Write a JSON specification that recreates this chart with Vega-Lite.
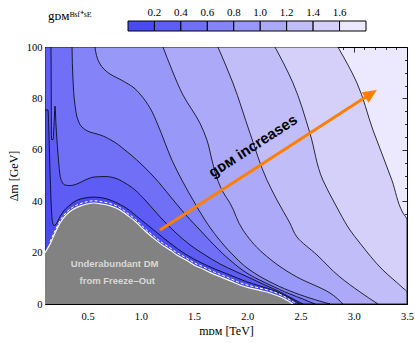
{
  "$schema": "https://vega.github.io/schema/vega-lite/v6.json",
  "width": 362,
  "height": 257,
  "autosize": "none",
  "padding": {"left": 45, "top": 47, "right": 8, "bottom": 39},
  "title": {"text": "gᴅᴍᴮˢᶠ⁺ˢᴱ", "anchor": "start", "frame": "group", "offset": 28, "dx": 3, "dy": 30, "font": "Liberation Serif", "fontSize": 13, "fontWeight": "normal", "color": "black"},
  "view": {"fill": "#ece8fd", "stroke": null},
  "datasets": {
    "k8": [
      {"X": 3.5, "Y": 0, "g": 1.5}, {"X": 3.5, "Y": 32.7, "g": 1.5}, {"X": 3.462, "Y": 35.4, "g": 1.5},
      {"X": 3.358, "Y": 48.2, "g": 1.5}, {"X": 3.18, "Y": 67.7, "g": 1.5}, {"X": 3.03, "Y": 86.0, "g": 1.5},
      {"X": 2.851, "Y": 100, "g": 1.5}
    ],
    "k7": [
      {"X": 3.5, "Y": 0, "g": 1.3}, {"X": 3.499, "Y": 4.7, "g": 1.3}, {"X": 3.462, "Y": 6.2, "g": 1.3},
      {"X": 3.274, "Y": 13.2, "g": 1.3}, {"X": 3.058, "Y": 23.7, "g": 1.3}, {"X": 2.964, "Y": 28.8, "g": 1.3},
      {"X": 2.87, "Y": 35.4, "g": 1.3}, {"X": 2.804, "Y": 40.5, "g": 1.3}, {"X": 2.71, "Y": 48.2, "g": 1.3},
      {"X": 2.588, "Y": 66.5, "g": 1.3}, {"X": 2.429, "Y": 86.0, "g": 1.3}, {"X": 2.26, "Y": 100, "g": 1.3}
    ],
    "k6": [
      {"X": 3.227, "Y": 0, "g": 1.1}, {"X": 3.058, "Y": 4.7, "g": 1.1}, {"X": 2.87, "Y": 10.5, "g": 1.1},
      {"X": 2.654, "Y": 19.1, "g": 1.1}, {"X": 2.466, "Y": 26.1, "g": 1.1}, {"X": 2.4, "Y": 31.5, "g": 1.1},
      {"X": 2.278, "Y": 40.5, "g": 1.1}, {"X": 2.185, "Y": 48.2, "g": 1.1}, {"X": 2.025, "Y": 66.5, "g": 1.1},
      {"X": 1.865, "Y": 86.0, "g": 1.1}, {"X": 1.724, "Y": 100, "g": 1.1}
    ],
    "k5": [
      {"X": 2.898, "Y": 0, "g": 0.9}, {"X": 2.776, "Y": 4.3, "g": 0.9}, {"X": 2.466, "Y": 10.5, "g": 0.9},
      {"X": 2.147, "Y": 19.8, "g": 0.9}, {"X": 1.959, "Y": 28.8, "g": 0.9}, {"X": 1.837, "Y": 39.3, "g": 0.9},
      {"X": 1.771, "Y": 43.6, "g": 0.9}, {"X": 1.715, "Y": 49.0, "g": 0.9}, {"X": 1.668, "Y": 56.0, "g": 0.9},
      {"X": 1.621, "Y": 63.8, "g": 0.9}, {"X": 1.555, "Y": 70.4, "g": 0.9}, {"X": 1.396, "Y": 81.3, "g": 0.9},
      {"X": 1.292, "Y": 91.1, "g": 0.9}, {"X": 1.208, "Y": 100, "g": 0.9}
    ],
    "k4": [
      {"X": 2.776, "Y": 0, "g": 0.7}, {"X": 2.588, "Y": 2.3, "g": 0.7}, {"X": 2.4, "Y": 5.1, "g": 0.7},
      {"X": 2.213, "Y": 8.6, "g": 0.7}, {"X": 2.025, "Y": 13.2, "g": 0.7}, {"X": 1.856, "Y": 19.5, "g": 0.7},
      {"X": 1.724, "Y": 25.7, "g": 0.7}, {"X": 1.602, "Y": 32.7, "g": 0.7}, {"X": 1.49, "Y": 40.5, "g": 0.7},
      {"X": 1.386, "Y": 48.2, "g": 0.7}, {"X": 1.292, "Y": 56.0, "g": 0.7}, {"X": 1.217, "Y": 63.8, "g": 0.7},
      {"X": 1.161, "Y": 69.6, "g": 0.7}, {"X": 1.086, "Y": 76.3, "g": 0.7}, {"X": 0.992, "Y": 81.7, "g": 0.7},
      {"X": 0.926, "Y": 84.4, "g": 0.7}, {"X": 0.832, "Y": 86.8, "g": 0.7}, {"X": 0.71, "Y": 89.5, "g": 0.7},
      {"X": 0.616, "Y": 93.4, "g": 0.7}, {"X": 0.569, "Y": 100, "g": 0.7}
    ],
    "k3": [
      {"X": 2.635, "Y": 0, "g": 0.5}, {"X": 2.523, "Y": 1.9, "g": 0.5}, {"X": 2.4, "Y": 3.9, "g": 0.5},
      {"X": 2.213, "Y": 7.4, "g": 0.5}, {"X": 2.025, "Y": 11.3, "g": 0.5}, {"X": 1.837, "Y": 17.1, "g": 0.5},
      {"X": 1.696, "Y": 22.6, "g": 0.5}, {"X": 1.555, "Y": 28.8, "g": 0.5}, {"X": 1.415, "Y": 35.0, "g": 0.5},
      {"X": 1.274, "Y": 42.0, "g": 0.5}, {"X": 1.133, "Y": 49.0, "g": 0.5}, {"X": 0.992, "Y": 54.9, "g": 0.5},
      {"X": 0.851, "Y": 59.9, "g": 0.5}, {"X": 0.72, "Y": 63.8, "g": 0.5}, {"X": 0.616, "Y": 65.8, "g": 0.5},
      {"X": 0.523, "Y": 66.9, "g": 0.5}, {"X": 0.457, "Y": 68.5, "g": 0.5}, {"X": 0.41, "Y": 71.6, "g": 0.5},
      {"X": 0.382, "Y": 77.4, "g": 0.5}, {"X": 0.363, "Y": 87.2, "g": 0.5}, {"X": 0.354, "Y": 100, "g": 0.5}
    ],
    "k2": [
      {"X": 0.1, "Y": 100, "g": 0.3}, {"X": 0.156, "Y": 100, "g": 0.3}, {"X": 0.161, "Y": 64, "g": 0.3},
      {"X": 0.175, "Y": 64, "g": 0.3}, {"X": 0.185, "Y": 70, "g": 0.3}, {"X": 0.194, "Y": 77, "g": 0.3},
      {"X": 0.203, "Y": 70, "g": 0.3}, {"X": 0.222, "Y": 58.4, "g": 0.3}, {"X": 0.241, "Y": 50.2, "g": 0.3},
      {"X": 0.26, "Y": 47.5, "g": 0.3}, {"X": 0.288, "Y": 46.3, "g": 0.3}, {"X": 0.335, "Y": 46.1, "g": 0.3},
      {"X": 0.4, "Y": 46.7, "g": 0.3}, {"X": 0.476, "Y": 48.2, "g": 0.3}, {"X": 0.56, "Y": 49.4, "g": 0.3},
      {"X": 0.663, "Y": 49.6, "g": 0.3}, {"X": 0.757, "Y": 49.0, "g": 0.3}, {"X": 0.851, "Y": 47.1, "g": 0.3},
      {"X": 0.945, "Y": 44.4, "g": 0.3}, {"X": 1.039, "Y": 40.5, "g": 0.3}, {"X": 1.189, "Y": 33.5, "g": 0.3},
      {"X": 1.321, "Y": 28.0, "g": 0.3}, {"X": 1.462, "Y": 23.0, "g": 0.3}, {"X": 1.602, "Y": 19.1, "g": 0.3},
      {"X": 1.743, "Y": 15.6, "g": 0.3}, {"X": 1.884, "Y": 12.8, "g": 0.3}, {"X": 2.025, "Y": 10.1, "g": 0.3},
      {"X": 2.166, "Y": 7.4, "g": 0.3}, {"X": 2.307, "Y": 4.7, "g": 0.3}, {"X": 2.447, "Y": 1.6, "g": 0.3},
      {"X": 2.523, "Y": 0, "g": 0.3}
    ],
    "k1": [
      {"X": 0.1, "Y": 75.5, "g": 0.1}, {"X": 0.128, "Y": 75.5, "g": 0.1}, {"X": 0.14, "Y": 62, "g": 0.1},
      {"X": 0.15, "Y": 48, "g": 0.1}, {"X": 0.16, "Y": 37, "g": 0.1}, {"X": 0.172, "Y": 31.5, "g": 0.1},
      {"X": 0.185, "Y": 30.5, "g": 0.1}, {"X": 0.203, "Y": 31, "g": 0.1}, {"X": 0.241, "Y": 34, "g": 0.1},
      {"X": 0.278, "Y": 36.3, "g": 0.1}, {"X": 0.335, "Y": 38.5, "g": 0.1}, {"X": 0.372, "Y": 39.7, "g": 0.1},
      {"X": 0.466, "Y": 41.2, "g": 0.1}, {"X": 0.56, "Y": 41.6, "g": 0.1}, {"X": 0.663, "Y": 41.1, "g": 0.1},
      {"X": 0.757, "Y": 39.7, "g": 0.1}, {"X": 0.861, "Y": 37.4, "g": 0.1}, {"X": 0.992, "Y": 33.1, "g": 0.1},
      {"X": 1.133, "Y": 28.4, "g": 0.1}, {"X": 1.274, "Y": 23.7, "g": 0.1}, {"X": 1.415, "Y": 19.5, "g": 0.1},
      {"X": 1.555, "Y": 16.3, "g": 0.1}, {"X": 1.696, "Y": 13.6, "g": 0.1}, {"X": 1.837, "Y": 11.3, "g": 0.1},
      {"X": 1.978, "Y": 8.9, "g": 0.1}, {"X": 2.119, "Y": 7.0, "g": 0.1}, {"X": 2.26, "Y": 5.1, "g": 0.1},
      {"X": 2.4, "Y": 2.3, "g": 0.1}, {"X": 2.494, "Y": 0, "g": 0.1}
    ],
    "gray": [
      {"X": 0.1, "Y": 20}, {"X": 0.147, "Y": 23.3}, {"X": 0.194, "Y": 27.6}, {"X": 0.241, "Y": 31.5},
      {"X": 0.297, "Y": 34.6}, {"X": 0.354, "Y": 36.6}, {"X": 0.429, "Y": 38.1}, {"X": 0.494, "Y": 38.9},
      {"X": 0.56, "Y": 39.3}, {"X": 0.635, "Y": 38.9}, {"X": 0.72, "Y": 38.1}, {"X": 0.804, "Y": 36.6},
      {"X": 0.87, "Y": 34.6}, {"X": 0.954, "Y": 31.9}, {"X": 1.03, "Y": 28.8}, {"X": 1.105, "Y": 26.1},
      {"X": 1.189, "Y": 23.3}, {"X": 1.274, "Y": 21.0}, {"X": 1.339, "Y": 19.1}, {"X": 1.424, "Y": 17.1},
      {"X": 1.499, "Y": 15.2}, {"X": 1.584, "Y": 13.6}, {"X": 1.659, "Y": 12.1}, {"X": 1.753, "Y": 10.5},
      {"X": 1.846, "Y": 8.9}, {"X": 1.931, "Y": 7.4}, {"X": 2.025, "Y": 6.2}, {"X": 2.119, "Y": 5.3},
      {"X": 2.213, "Y": 4.3}, {"X": 2.335, "Y": 2.3}, {"X": 2.429, "Y": 0}
    ],
    "dash": [
      {"X": 0.147, "Y": 24.2}, {"X": 0.194, "Y": 28.5}, {"X": 0.241, "Y": 32.4}, {"X": 0.297, "Y": 35.5},
      {"X": 0.354, "Y": 37.5}, {"X": 0.429, "Y": 39.0}, {"X": 0.494, "Y": 39.8}, {"X": 0.56, "Y": 40.2},
      {"X": 0.635, "Y": 39.8}, {"X": 0.72, "Y": 39.0}, {"X": 0.804, "Y": 37.5}, {"X": 0.87, "Y": 35.5},
      {"X": 0.954, "Y": 32.8}, {"X": 1.03, "Y": 29.7}, {"X": 1.105, "Y": 27.0}, {"X": 1.189, "Y": 24.2},
      {"X": 1.274, "Y": 21.9}, {"X": 1.339, "Y": 20.0}, {"X": 1.424, "Y": 18.0}, {"X": 1.499, "Y": 16.1},
      {"X": 1.584, "Y": 14.5}, {"X": 1.659, "Y": 13.0}, {"X": 1.753, "Y": 11.4}, {"X": 1.846, "Y": 9.8},
      {"X": 1.931, "Y": 8.3}, {"X": 2.025, "Y": 7.1}, {"X": 2.119, "Y": 6.2}, {"X": 2.213, "Y": 5.2},
      {"X": 2.335, "Y": 3.2}, {"X": 2.45, "Y": 0.3}
    ],
    "notes": [
      {"X": 0.754, "Y": 15.6, "t": "Underabundant DM"},
      {"X": 0.779, "Y": 9.1, "t": "from Freeze–Out"}
    ],
    "label": [{"X": 2.053, "Y": 61.5, "t": "gᴅᴍ increases"}],
    "arrow": [{"X": 1.18, "Y": 28.8, "X2": 3.13, "Y2": 81.0}],
    "head": [{"X": 3.162, "Y": 81.8}]
  },
  "encoding": {
    "x": {"field": "X", "type": "quantitative", "stack": null, "scale": {"domain": [0.1, 3.5], "nice": false, "zero": false}, "axis": null},
    "y": {"field": "Y", "type": "quantitative", "stack": null, "scale": {"domain": [0, 100], "nice": false, "zero": false}, "axis": null},
    "color": {
      "field": "g", "type": "quantitative",
      "scale": {"type": "threshold", "domain": [0.2, 0.4, 0.6, 0.8, 1.0, 1.2, 1.4, 1.6],
        "range": ["#4a4af2", "#5d5df6", "#7070f7", "#8484f8", "#9898f8", "#acaaf8", "#c0bdf9", "#d4d0fa", "#ece8fd"]},
      "legend": {"type": "gradient", "orient": "none", "legendX": 83, "legendY": -26, "direction": "horizontal",
        "gradientLength": 238, "gradientThickness": 10, "title": null, "labelOffset": -24,
        "labelFont": "Liberation Serif", "labelFontSize": 11, "labelColor": "black", "format": ".1f",
        "labelOverlap": false, "gradientStrokeColor": "black", "gradientStrokeWidth": 1}
    }
  },
  "layer": [
    {"data": {"name": "k8"}, "mark": {"type": "area", "orient": "horizontal", "interpolate": "monotone", "stroke": "black", "strokeWidth": 0.8, "clip": true}},
    {"data": {"name": "k7"}, "mark": {"type": "area", "orient": "horizontal", "interpolate": "monotone", "stroke": "black", "strokeWidth": 0.8, "clip": true}},
    {"data": {"name": "k6"}, "mark": {"type": "area", "orient": "horizontal", "interpolate": "monotone", "stroke": "black", "strokeWidth": 0.8, "clip": true}},
    {"data": {"name": "k5"}, "mark": {"type": "area", "orient": "horizontal", "interpolate": "monotone", "stroke": "black", "strokeWidth": 0.8, "clip": true}},
    {"data": {"name": "k4"}, "mark": {"type": "area", "orient": "horizontal", "interpolate": "monotone", "stroke": "black", "strokeWidth": 0.8, "clip": true}},
    {"data": {"name": "k3"}, "mark": {"type": "area", "orient": "horizontal", "interpolate": "monotone", "stroke": "black", "strokeWidth": 0.8, "clip": true}},
    {"data": {"name": "k2"}, "mark": {"type": "area", "orient": "vertical", "interpolate": "monotone", "stroke": "black", "strokeWidth": 0.8, "clip": true}},
    {"data": {"name": "k1"}, "mark": {"type": "area", "orient": "vertical", "interpolate": "monotone", "stroke": "black", "strokeWidth": 0.8, "clip": true}},
    {"data": {"name": "gray"}, "mark": {"type": "area", "orient": "vertical", "interpolate": "monotone", "clip": true}, "encoding": {"color": {"value": "#828282"}}},
    {"data": {"name": "gray"}, "mark": {"type": "line", "interpolate": "monotone", "strokeWidth": 1.2, "clip": true}, "encoding": {"color": {"value": "white"}}},
    {"data": {"name": "dash"}, "mark": {"type": "line", "interpolate": "monotone", "strokeWidth": 1, "strokeDash": [3, 2], "clip": true}, "encoding": {"color": {"value": "white"}}},
    {"data": {"name": "notes"}, "mark": {"type": "text", "font": "Liberation Sans", "fontWeight": "bold", "fontSize": 9.5}, "encoding": {"text": {"field": "t"}, "color": {"value": "#d8d8d8"}}},
    {"data": {"name": "arrow"}, "mark": {"type": "rule", "strokeWidth": 3}, "encoding": {"x2": {"field": "X2"}, "y2": {"field": "Y2"}, "color": {"value": "#ff8000"}}},
    {"data": {"name": "head"}, "mark": {"type": "point", "shape": "M0,-1L0.9,1L-0.9,1Z", "angle": 57, "size": 196, "filled": true, "opacity": 1, "strokeWidth": 0}, "encoding": {"color": {"value": "#ff8000"}}},
    {"data": {"name": "label"}, "mark": {"type": "text", "angle": 327, "font": "Liberation Sans", "fontWeight": "bold", "fontSize": 15}, "encoding": {"text": {"field": "t"}, "color": {"value": "black"}}},
    {"data": {"name": "head"}, "mark": {"type": "point", "opacity": 0},
      "encoding": {
        "color": {"value": "transparent"},
        "x": {"field": "X", "type": "quantitative", "scale": {"domain": [0.1, 3.5], "nice": false, "zero": false},
          "axis": {"orient": "bottom", "values": [0.5, 1, 1.5, 2, 2.5, 3, 3.5], "format": ".1f", "tickSize": -5, "labelPadding": 12, "labelFlush": false, "domain": true, "title": "mᴅᴍ [TeV]", "titlePadding": 4}},
        "y": {"field": "Y", "type": "quantitative", "scale": {"domain": [0, 100], "nice": false, "zero": false},
          "axis": {"orient": "left", "values": [0, 20, 40, 60, 80, 100], "tickSize": -5, "labelPadding": 8, "labelFlush": false, "domain": true, "title": "Δm [GeV]", "titlePadding": 6}}
      }},
    {"data": {"name": "head"}, "mark": {"type": "point", "opacity": 0},
      "encoding": {
        "color": {"value": "transparent"},
        "x": {"field": "X", "type": "quantitative", "scale": {"domain": [0.1, 3.5], "nice": false, "zero": false},
          "axis": {"orient": "top", "values": [0.5, 1, 1.5, 2, 2.5, 3, 3.5], "tickSize": -5, "labels": false, "domain": true, "title": null}},
        "y": {"field": "Y", "type": "quantitative", "scale": {"domain": [0, 100], "nice": false, "zero": false},
          "axis": {"orient": "right", "values": [0, 20, 40, 60, 80, 100], "tickSize": -5, "labels": false, "domain": true, "title": null}}
      }},
    {"data": {"name": "head"}, "mark": {"type": "point", "opacity": 0},
      "encoding": {
        "color": {"value": "transparent"},
        "x": {"field": "X", "type": "quantitative", "scale": {"domain": [0.1, 3.5], "nice": false, "zero": false},
          "axis": {"orient": "bottom", "values": [0.2, 0.3, 0.4, 0.6, 0.7, 0.8, 0.9, 1.1, 1.2, 1.3, 1.4, 1.6, 1.7, 1.8, 1.9, 2.1, 2.2, 2.3, 2.4, 2.6, 2.7, 2.8, 2.9, 3.1, 3.2, 3.3, 3.4], "tickSize": -2.5, "labels": false, "domain": false, "title": null}},
        "y": {"field": "Y", "type": "quantitative", "scale": {"domain": [0, 100], "nice": false, "zero": false},
          "axis": {"orient": "left", "values": [5, 10, 15, 25, 30, 35, 45, 50, 55, 65, 70, 75, 85, 90, 95], "tickSize": -2.5, "labels": false, "domain": false, "title": null}}
      }},
    {"data": {"name": "head"}, "mark": {"type": "point", "opacity": 0},
      "encoding": {
        "color": {"value": "transparent"},
        "x": {"field": "X", "type": "quantitative", "scale": {"domain": [0.1, 3.5], "nice": false, "zero": false},
          "axis": {"orient": "top", "values": [0.2, 0.3, 0.4, 0.6, 0.7, 0.8, 0.9, 1.1, 1.2, 1.3, 1.4, 1.6, 1.7, 1.8, 1.9, 2.1, 2.2, 2.3, 2.4, 2.6, 2.7, 2.8, 2.9, 3.1, 3.2, 3.3, 3.4], "tickSize": -2.5, "labels": false, "domain": false, "title": null}},
        "y": {"field": "Y", "type": "quantitative", "scale": {"domain": [0, 100], "nice": false, "zero": false},
          "axis": {"orient": "right", "values": [5, 10, 15, 25, 30, 35, 45, 50, 55, 65, 70, 75, 85, 90, 95], "tickSize": -2.5, "labels": false, "domain": false, "title": null}}
      }}
  ],
  "resolve": {"axis": {"x": "independent", "y": "independent"}},
  "config": {
    "axis": {"labelFont": "Liberation Serif", "labelFontSize": 10.5, "labelColor": "black", "titleFont": "Liberation Serif", "titleFontSize": 12, "titleFontWeight": "normal", "titleColor": "black", "tickColor": "black", "tickWidth": 0.8, "domainColor": "black", "domainWidth": 1, "grid": false, "zindex": 1}
  }
}
